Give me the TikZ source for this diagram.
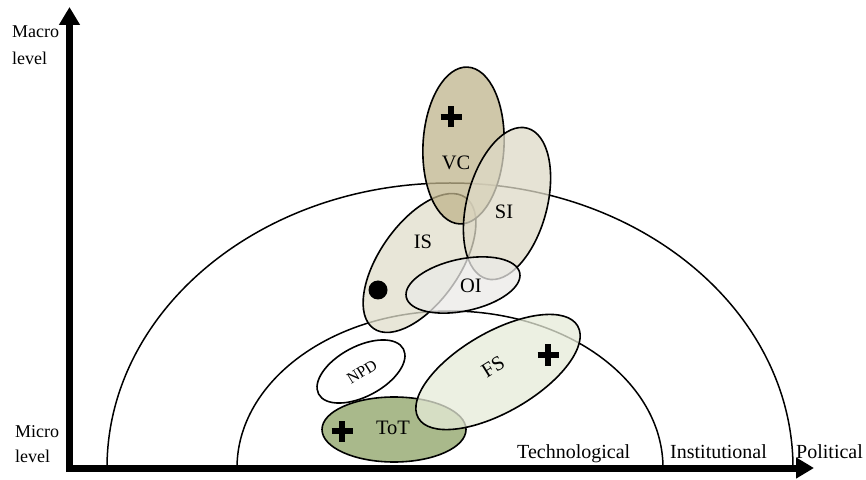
\documentclass[tikz,border=0pt]{standalone}
\usepackage{fontspec}
\setmainfont{Liberation Serif}
\usetikzlibrary{arrows.meta}
\definecolor{cVC}{RGB}{191,180,140}
\definecolor{cSI}{RGB}{222,218,199}
\definecolor{cIS}{RGB}{224,222,203}
\definecolor{cOI}{RGB}{235,234,231}
\definecolor{cFS}{RGB}{230,235,216}
\definecolor{cToT}{RGB}{169,185,139}
\tikzset{
  axisline/.style={line width=7pt,-{Triangle[width=20pt,length=18pt]}},
  arcline/.style={line width=1.5pt},
  blob/.style={draw=black,line width=1.6pt,fill opacity=0.75},
  lbl/.style={inner sep=0pt,font=\fontsize{20.5}{20.5}\selectfont},
  axlbl/.style={inner sep=0pt,anchor=base west,font=\fontsize{20}{20}\selectfont},
  sidelbl/.style={inner sep=0pt,anchor=base west,font=\fontsize{18}{18}\selectfont},
  plusarm/.style={line width=6pt},
}
\begin{document}
\begin{tikzpicture}[x=1pt,y=1pt]
\useasboundingbox (0,0) rectangle (866,479);
% arcs
\coordinate (C) at (450,11);
\draw[arcline] (107,11) arc[start angle=180,end angle=0,x radius=343,y radius=285];
\draw[arcline] (237,11) arc[start angle=180,end angle=0,x radius=213,y radius=157];
% axes
\coordinate (O) at (69.5,11);
\coordinate (Ybot) at (69.5,7);
\coordinate (Ytop) at (69.5,472);
\coordinate (Xl) at (66,11);
\coordinate (Xr) at (814,11);
\draw[axisline] (Ybot) -- (Ytop);
\draw[axisline] (Xl) -- (Xr);
% ellipses
\draw[blob,fill=cIS] (419.5,216) ellipse[x radius=40,y radius=80,rotate=-35];
\draw[blob,fill=cVC] (463.5,333.5) ellipse[x radius=40.5,y radius=78.5,rotate=-3];
\draw[blob,fill=cSI] (507,275.5) ellipse[x radius=40,y radius=78,rotate=-15];
\draw[blob,fill=cOI] (463,194) ellipse[x radius=58,y radius=26,rotate=12];
\draw[blob,fill=white,fill opacity=1] (361,107.5) ellipse[x radius=48,y radius=25,rotate=28];
\draw[blob,fill=cToT,fill opacity=1] (394,49.5) ellipse[x radius=72,y radius=32.5];
\draw[blob,fill=cFS] (498,107) ellipse[x radius=92,y radius=40,rotate=30];
% labels
\node[lbl] (VC) at (456,316) {VC};
\node[lbl] (SI) at (504,267) {SI};
\node[lbl] (IS) at (423,237) {IS};
\node[lbl] (OI) at (471,193) {OI};
\node[lbl,font=\fontsize{16}{16}\selectfont,rotate=32] (NPD) at (362,107) {NPD};
\node[lbl,rotate=32] (FS) at (493,112) {FS};
\node[lbl] (ToT) at (393,51) {ToT};
% plus signs
\foreach \n/\px/\py in {p1/451/362,p2/548/124,p3/342/48}{
  \draw[plusarm] (\px-10.5,\py) -- (\px+10.5,\py);
  \draw[plusarm] (\px,\py-10.5) -- (\px,\py+10.5);
}
% dot
\fill (378,189) circle[radius=9.5];
% axis labels
\node[sidelbl] (macro) at (12,441) {Macro};
\node[sidelbl] (macrolevel) at (12,414) {level};
\node[sidelbl] (micro) at (15,41.5) {Micro};
\node[sidelbl] (microlevel) at (15,16.5) {level};
\node[axlbl] (tech) at (517,21) {Technological};
\node[axlbl] (inst) at (670,21) {Institutional};
\node[axlbl] (pol) at (796,21) {Political};
\end{tikzpicture}
\end{document}
